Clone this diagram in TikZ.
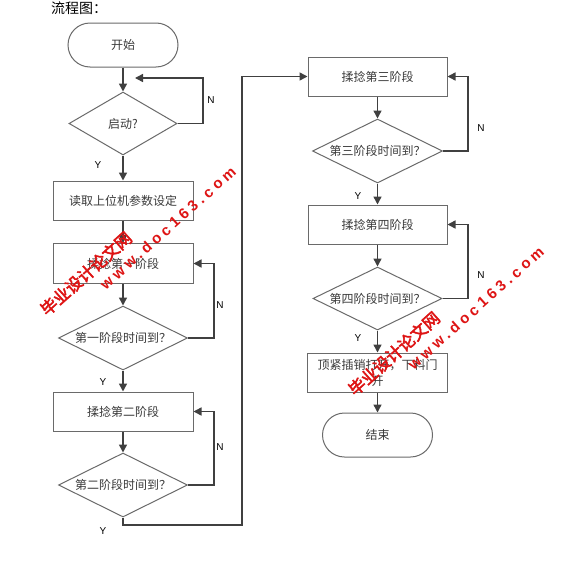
\documentclass[tikz,border=0pt]{standalone}
\usepackage{fontspec}
\setmainfont{Liberation Sans}
\newfontfamily\cjk{Noto Sans CJK SC}
\newfontfamily\wmcjk[FakeBold=3]{Noto Sans CJK SC}
\newfontfamily\wmfont[LetterSpace=26]{Liberation Sans Bold}
\usetikzlibrary{arrows.meta,shapes.geometric}
\definecolor{linec}{HTML}{404040}
\definecolor{boxc}{HTML}{6A6A6A}
\definecolor{textc}{HTML}{3A3A3A}
\definecolor{wmred}{RGB}{222,20,20}
\tikzset{
  conn/.style={draw=linec, line width=1.5pt, -{Triangle[length=8pt,width=8pt]}},
  procbox/.style={draw=boxc, line width=1pt, rectangle, minimum width=140pt, minimum height=39pt, inner sep=0pt, font=\cjk\fontsize{12}{15}\selectfont, text=textc},
  decis/.style={draw=boxc, line width=1pt, diamond, aspect=2, minimum width=129pt, minimum height=64pt, inner sep=0pt, font=\cjk\fontsize{12}{15}\selectfont, text=textc},
  term/.style={draw=boxc, line width=1pt, rectangle, rounded corners=22pt, minimum width=110pt, minimum height=44pt, inner sep=0pt, font=\cjk\fontsize{12}{15}\selectfont, text=textc},
  yn/.style={font=\fontsize{10}{12}\selectfont, text=black, inner sep=0pt},
  wmcn/.style={text=wmred, inner sep=0pt, font=\wmcjk\fontsize{16.5}{18}\selectfont, rotate=41.8},
  wmen/.style={text=wmred, inner sep=0pt, font=\wmfont\fontsize{15}{18}\selectfont, rotate=41.8}
}
\begin{document}
\begin{tikzpicture}[x=1pt,y=-1pt]
\useasboundingbox (0,0) rectangle (585,570);
\fill[white] (0,0) rectangle (585,570);
\node[anchor=west, inner sep=0pt, font=\cjk\fontsize{14}{16}\selectfont] (title) at (51,8) {流程图：};
% left column
\node[term] (start) at (123,45) {开始};
\node[decis, minimum width=108pt, minimum height=63pt] (d0) at (123,123.5) {启动?};
\node[procbox] (b1) at (123,200.5) {读取上位机参数设定};
\node[procbox, minimum height=40pt] (b2) at (123,263.5) {揉捻第一阶段};
\node[decis] (d1) at (123,338) {第一阶段时间到？};
\node[procbox] (b3) at (123,411.5) {揉捻第二阶段};
\node[decis] (d2) at (123,485) {第二阶段时间到？};
% right column
\node[procbox, minimum width=139pt] (b4) at (377.5,76.5) {揉捻第三阶段};
\node[decis, minimum width=130pt] (d3) at (377.5,151) {第三阶段时间到？};
\node[procbox, minimum width=139pt] (b5) at (377.5,224.5) {揉捻第四阶段};
\node[decis, minimum height=63pt] (d4) at (377.5,298.5) {第四阶段时间到？};
\node[procbox, align=center, font=\cjk\fontsize{12}{16}\selectfont] (b6) at (377.5,372.5) {顶紧插销打开，下料门\\开};
\node[term] (end) at (377.5,435) {结束};
% coordinates for loops
\coordinate (k0) at (203,78);
\coordinate (k0e) at (135,78);
\coordinate (k1) at (214,263.5);
\coordinate (k2) at (214,411.5);
\coordinate (j1) at (123,525);
\coordinate (j3) at (242,76.5);
\coordinate (k3) at (468,76.5);
\coordinate (k4) at (468,224.5);
% connectors
\draw[conn] (start) -- (d0);
\draw[conn] (d0.east) -| (k0) -- (k0e);
\draw[conn] (d0) -- (b1);
\draw[conn] (b1) -- (b2);
\draw[conn] (b2) -- (d1);
\draw[conn] (d1.east) -| (k1) -- (b2.east);
\draw[conn] (d1) -- (b3);
\draw[conn] (b3) -- (d2);
\draw[conn] (d2.east) -| (k2) -- (b3.east);
\draw[conn] (d2.south) -- (j1) -| (j3) -- (b4.west);
\draw[conn] (b4) -- (d3);
\draw[conn] (d3.east) -| (k3) -- (b4.east);
\draw[conn] (d3) -- (b5);
\draw[conn] (b5) -- (d4);
\draw[conn] (d4.east) -| (k4) -- (b5.east);
\draw[conn] (d4) -- (b6);
\draw[conn] (b6) -- (end);
% labels
\node[yn] (n0) at (211,100) {N};
\node[yn] (n1) at (220,305) {N};
\node[yn] (n2) at (220,447) {N};
\node[yn] (n3) at (481,128) {N};
\node[yn] (n4) at (481,275) {N};
\node[yn] (y0) at (98,165) {Y};
\node[yn] (y1) at (103,382) {Y};
\node[yn] (y2) at (103,531) {Y};
\node[yn] (y3) at (358,196) {Y};
\node[yn] (y4) at (358,338) {Y};
% watermarks
\node[wmcn] (wm1a) at (86,273.5) {毕业设计论文网};
\node[wmen] (wm1b) at (168,228) {www.doc163.com};
\node[wmcn] (wm2a) at (394,353.5) {毕业设计论文网};
\node[wmen] (wm2b) at (476,308) {www.doc163.com};
\end{tikzpicture}
\end{document}
